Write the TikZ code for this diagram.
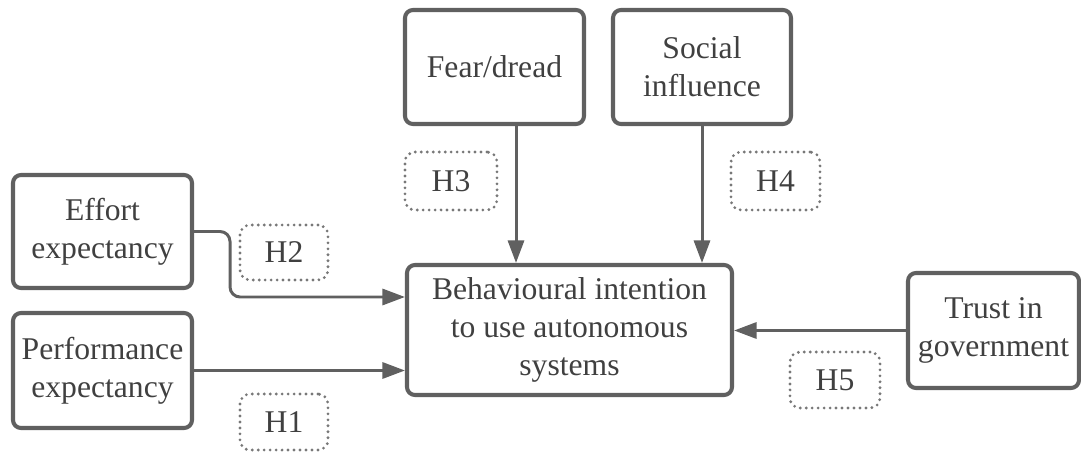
\documentclass[tikz,border=0pt]{standalone}
\usepackage{fontspec}
\setmainfont{Liberation Serif}
\usetikzlibrary{arrows.meta, positioning}
\definecolor{linegray}{RGB}{96,96,96}
\definecolor{textgray}{RGB}{64,64,64}

\begin{document}
\begin{tikzpicture}
		\tikzstyle{Box} = [rectangle, rounded corners=0.16cm, align=center, draw=linegray, line width=2.3pt, text=textgray, font=\fontsize{18}{21.5}\selectfont, inner sep=0pt]
		\tikzstyle{Hyp} = [rectangle, rounded corners=0.2cm, align=center, draw=linegray!85, line width=1.8pt, line cap=round, dash pattern=on 0pt off 3.4pt, text=textgray, font=\fontsize{18}{21.5}\selectfont, inner sep=0pt]
		\tikzstyle{arrow} = [draw=linegray, line width=1.7pt, -{Triangle[length=0.45cm, width=0.32cm]}]
		
		\useasboundingbox (0,0) rectangle (21.62,-9.04);
		
		\node (fear) [Box, minimum width=3.58cm, minimum height=2.28cm] at (9.89,-1.34) {Fear/dread};
		\node (social) [Box, minimum width=3.56cm, minimum height=2.28cm] at (14.04,-1.34) {Social\\influence};
		\node (effort) [Box, minimum width=3.58cm, minimum height=2.26cm] at (2.05,-4.63) {Effort\\expectancy};
		\node (perf) [Box, minimum width=3.58cm, minimum height=2.30cm] at (2.05,-7.41) {Performance\\expectancy};
		\node (bi) [Box, minimum width=6.50cm, minimum height=2.60cm] at (11.39,-6.60) {Behavioural intention\\to use autonomous\\systems};
		\node (trust) [Box, minimum width=3.42cm, minimum height=2.30cm] at (19.87,-6.61) {Trust in\\government};
		
		\node (h3) [Hyp, minimum width=1.84cm, minimum height=1.16cm] at (9.02,-3.62) {H3};
		\node (h4) [Hyp, minimum width=1.78cm, minimum height=1.16cm] at (15.51,-3.62) {H4};
		\node (h2) [Hyp, minimum width=1.76cm, minimum height=1.10cm] at (5.68,-5.05) {H2};
		\node (h1) [Hyp, minimum width=1.76cm, minimum height=1.12cm] at (5.68,-8.44) {H1};
		\node (h5) [Hyp, minimum width=1.80cm, minimum height=1.12cm] at (16.70,-7.60) {H5};
		
		\draw [arrow] ([xshift=0.43cm]fear.south) -- ([xshift=0.43cm]fear.south |- bi.north);
		\draw [arrow] (social.south) -- (social.south |- bi.north);
		\draw [arrow, rounded corners=0.2cm] (effort.east) -- ++(0.72,0) |- ([yshift=0.66cm]bi.west);
		\draw [arrow] (perf.east) -- (perf.east -| bi.west);
		\draw [arrow] (trust.west) -- (trust.west -| bi.east);
\end{tikzpicture}
\end{document}
